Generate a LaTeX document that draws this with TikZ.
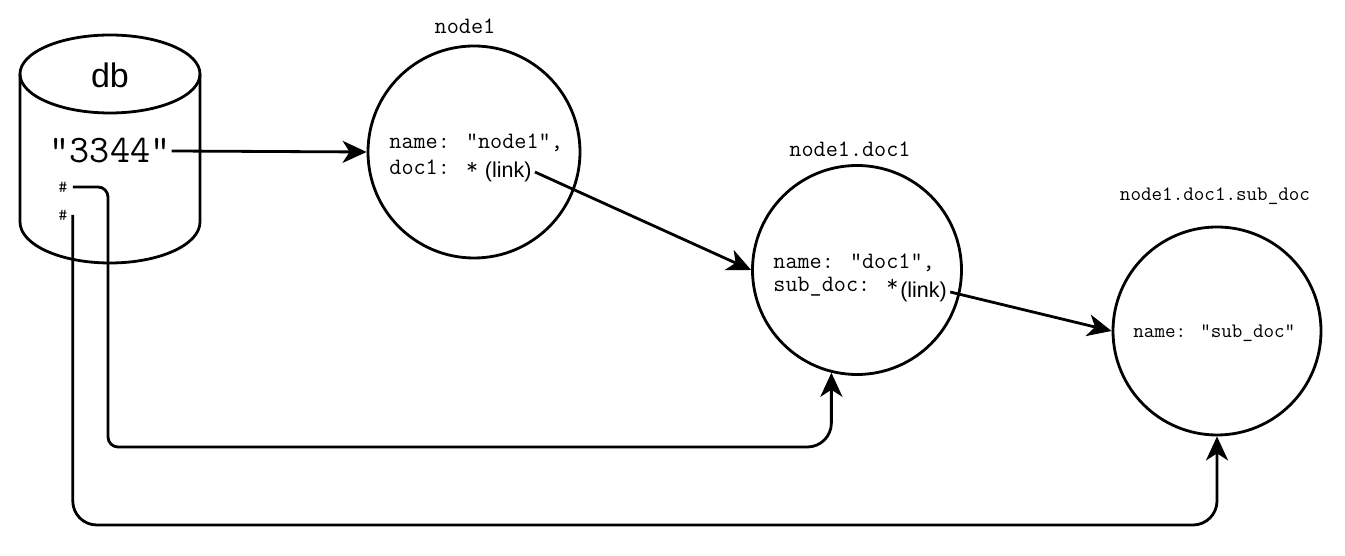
\documentclass[tikz,border=0pt]{standalone}
\usepackage{fontspec}
\setmainfont{Liberation Sans}
\setsansfont{Liberation Sans}
\usetikzlibrary{arrows.meta,positioning}

\begin{document}
\begin{tikzpicture}[
    x=1pt, y=1pt,
    >={Stealth[length=24pt,width=22pt,inset=7pt]},
    font=\sffamily,
    line width=2.8pt,
    doc/.style={
		circle,
		draw=black,
		inner sep=0pt
	},
    field/.style={
		font=\ttfamily\fontsize{23.5}{27}\selectfont,
		anchor=west,
		inner sep=0pt
	},
    small field/.style={
		field,
		font=\ttfamily\fontsize{20.5}{24}\selectfont
	},
    tag/.style={
		font=\sffamily\fontsize{21.5}{25}\selectfont,
		inner sep=2pt
	},
    caption/.style={
		font=\ttfamily\fontsize{23.5}{27}\selectfont,
		inner sep=0pt
	},
    hash/.style={
		font=\ttfamily\fontsize{17}{18}\selectfont,
		inner xsep=4pt,
		inner ysep=0pt
	},
    link/.style={
		->
	}
  ]
  \useasboundingbox (0,0) rectangle (1345,556);

  % the store
  \draw (20,482) -- (20,334) arc[start angle=180, end angle=360, x radius=90, y radius=41] -- (200,482);
  \draw (110,482) ellipse [x radius=90, y radius=39];
  \node (db) at (110,481) {\fontsize{34}{40}\selectfont db};
  \node [caption, font=\ttfamily\fontsize{39}{44}\selectfont] (key) at (110,405) {"3344"};
  \node [hash] (ref1) at (63,369) {\#};
  \node [hash] (ref2) at (63,341) {\#};

  % the documents
  \node [doc, minimum size=212pt] (node1) at (474,404) {};
  \node [doc, minimum size=209pt] (doc1) at (857,286) {};
  \node [doc, minimum size=208pt] (subdoc) at (1217,225) {};

  \node [caption] (cap1) at (465,530) {node1};
  \node [caption] (cap2) at (850,407) {node1.doc1};
  \node [caption, font=\ttfamily\fontsize{20.5}{24}\selectfont] (cap3) at (1215,360) {node1.doc1.sub\_doc};

  \node [field] (n1name) at (388,413) {name: "node1",};
  \node [field] (n1doc) at (388,389) {doc1: *};
  \node [tag, right=2pt of n1doc, yshift=-5pt] (link1) {(link)};

  \node [field] (d1name) at (772,293) {name: "doc1",};
  \node [field] (d1sub) at (772,269) {sub\_doc: *};
  \node [tag, right=-3pt of d1sub, yshift=-5pt] (link2) {(link)};

  \node [small field] (sname) at (1132,223) {name: "sub\_doc"};

  % the links
  \coordinate (bend1) at (108,109);
  \coordinate (bend2) at (ref2.east |- 0,31);

  \draw [link] (key.east) -- (node1.west);
  \draw [link] (link1.east) -- (doc1.west);
  \draw [link] (link2.east) -- (subdoc.west);
  \draw [link, rounded corners=10pt] (ref1.east) -| (bend1) [rounded corners=24pt] -| (doc1.256);
  \draw [link, rounded corners=24pt] (ref2.east) -- (bend2) -| (subdoc.south);

\end{tikzpicture}
\end{document}
